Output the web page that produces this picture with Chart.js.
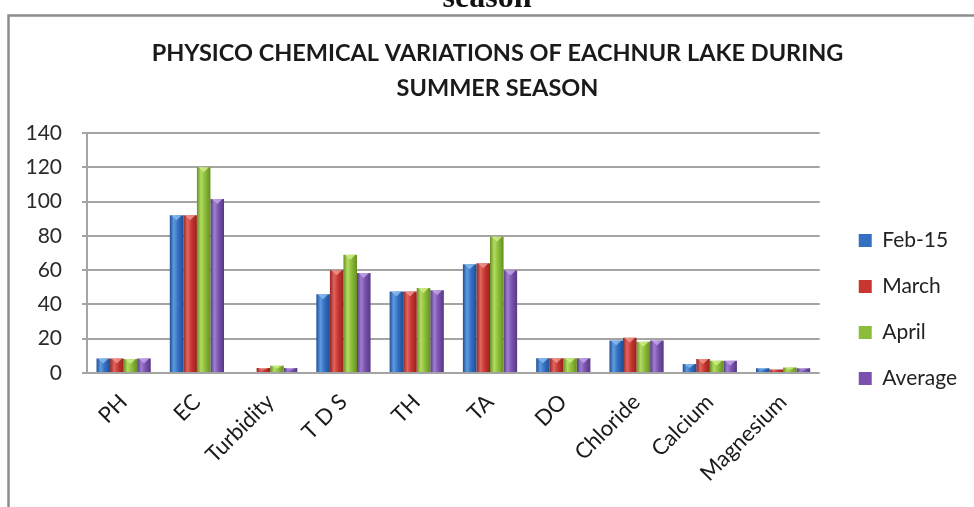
<!DOCTYPE html>
<html>
<head>
<meta charset="utf-8">
<script src="https://cdn.jsdelivr.net/npm/chart.js@4.4.1/dist/chart.umd.min.js"></script>
<style>
  html, body { margin: 0; padding: 0; background: #fff; overflow: hidden; }
  #wrap { position: relative; width: 974px; height: 507px; }
  #caption {
    position: absolute; left: 0; width: 974px; top: -22px; text-align: center;
    font: bold 32px "Liberation Serif", "DejaVu Serif", serif; color: #111;
    line-height: 36px; pointer-events: none; z-index: 2;
  }
  canvas { position: absolute; left: 0; top: 0; }
</style>
</head>
<body>
<div id="wrap">
  <div id="caption">season</div>
  <canvas id="chart" width="974" height="507"></canvas>
</div>
<script>
// Physico-chemical parameters measured at Eachnur lake
const categories = ['PH', 'EC', 'Turbidity', 'T D S', 'TH', 'TA', 'DO', 'Chloride', 'Calcium', 'Magnesium'];
const seriesNames = ['Feb-15', 'March', 'April', 'Average'];
const feb15   = [8.5, 92, 0,   46, 47.5, 63.5, 8.6, 19,   5.2, 2.8];
const march   = [8.5, 92, 2.9, 60, 47.5, 64,   8.6, 20.5, 8.2, 2.0];
const april   = [8.2, 120, 4.3, 69, 49.6, 79.5, 8.6, 18.3, 7.2, 3.2];
const average = [8.4, 101.5, 2.9, 58.3, 48.2, 59.8, 8.6, 18.9, 7.2, 2.8];
const yTicks  = [0, 20, 40, 60, 80, 100, 120, 140];

// base, light and dark shades for the cylinder-like bar fill
const palette = [
  { base: '#3470c2', light: '#5f9be0', dark: '#1f4f94', cap: '#8dbdf0' },
  { base: '#c83630', light: '#e06660', dark: '#962220', cap: '#f09a94' },
  { base: '#8cbd3a', light: '#b2dc62', dark: '#668f22', cap: '#d2ee8c' },
  { base: '#7a52ae', light: '#a07ed0', dark: '#553884', cap: '#c4a8e8' }
];

const FONT = 'Lato, "Open Sans", sans-serif';

// frame around the figure plus white page
const framePlugin = {
  id: 'frame',
  beforeDraw(chart) {
    const ctx = chart.ctx;
    ctx.save();
    ctx.fillStyle = '#ffffff';
    ctx.fillRect(0, 0, chart.width, chart.height);
    ctx.strokeStyle = '#8c8c8c';
    ctx.lineWidth = 2.5;
    ctx.beginPath();
    ctx.moveTo(8.5, chart.height);
    ctx.lineTo(8.5, 15.5);
    ctx.lineTo(chart.width, 15.5);
    ctx.stroke();
    ctx.restore();
  }
};

// shade each bar with a horizontal gradient and a bevelled top
const shadePlugin = {
  id: 'shade',
  beforeDatasetsDraw(chart) {
    const ctx = chart.ctx;
    chart.data.datasets.forEach((ds, di) => {
      const meta = chart.getDatasetMeta(di);
      const c = palette[di];
      meta.data.forEach(el => {
        const l = el.x - el.width / 2, r = el.x + el.width / 2;
        if (!isFinite(l) || !isFinite(r) || r <= l) return;
        const g = ctx.createLinearGradient(l, 0, r, 0);
        g.addColorStop(0, c.dark);
        g.addColorStop(0.3, c.light);
        g.addColorStop(0.6, c.base);
        g.addColorStop(1, c.dark);
        el.options.backgroundColor = g;
      });
    });
  },
  afterDatasetsDraw(chart) {
    const ctx = chart.ctx;
    ctx.save();
    chart.data.datasets.forEach((ds, di) => {
      const meta = chart.getDatasetMeta(di);
      const c = palette[di];
      meta.data.forEach(el => {
        const h = el.base - el.y;
        if (!(h > 3)) return;
        const l = el.x - el.width / 2, r = el.x + el.width / 2;
        const d = Math.min(5, h / 2);
        ctx.fillStyle = c.cap;
        ctx.globalAlpha = 0.8;
        ctx.beginPath();
        ctx.moveTo(l + 1.5, el.y);
        ctx.lineTo(r - 1.5, el.y);
        ctx.lineTo(el.x, el.y + d);
        ctx.closePath();
        ctx.fill();
      });
    });
    ctx.restore();
  }
};

// place the title and legend blocks relative to the framed figure
const blockShift = {
  id: 'blockShift',
  afterLayout(chart) {
    const lg = chart.legend;
    if (lg) { lg.left += 14; lg.right += 14; lg.top += 56; lg.bottom += 56; }
    const tb = chart.titleBlock;
    if (tb) { tb.left += 10; tb.right += 10; }
  }
};

const seriesValues = [feb15, march, april, average];
const datasets = seriesNames.map((name, i) => ({
  label: name,
  data: seriesValues[i],
  backgroundColor: () => palette[i].base,
  borderWidth: 0,
  categoryPercentage: 0.74,
  barPercentage: 1.0
}));

new Chart(document.getElementById('chart'), {
  type: 'bar',
  data: { labels: categories, datasets },
  plugins: [framePlugin, shadePlugin, blockShift],
  options: {
    responsive: false,
    animation: false,
    devicePixelRatio: 1,
    layout: { padding: { left: 22, right: 21, top: 0, bottom: 0 } },
    plugins: {
      title: {
        display: true,
        text: ['PHYSICO CHEMICAL VARIATIONS OF EACHNUR LAKE DURING', 'SUMMER SEASON'],
        color: '#1a1a1a',
        font: { family: FONT, size: 23.5, weight: 'bold', lineHeight: 35 / 23.5 },
        padding: { top: 35.5, bottom: 27.5 }
      },
      legend: {
        position: 'right',
        labels: {
          color: '#222',
          font: { family: FONT, size: 21 },
          boxWidth: 13,
          boxHeight: 13,
          padding: 25
        }
      },
      tooltip: { enabled: false }
    },
    scales: {
      x: {
        grid: { display: false },
        border: { display: false },
        ticks: {
          color: '#1a1a1a',
          font: { family: FONT, size: 22 },
          minRotation: 45,
          maxRotation: 45,
          padding: 8
        },
        afterFit(scale) { scale.height = 134; }
      },
      y: {
        min: 0,
        max: 140,
        afterBuildTicks(scale) { scale.ticks = yTicks.map(v => ({ value: v })); },
        grid: { color: '#a4a4a4', lineWidth: 2, tickLength: 5, drawTicks: true },
        border: { display: true, color: '#a4a4a4', width: 2 },
        ticks: {
          color: '#2a2a2a',
          font: { family: FONT, size: 21 },
          padding: 20
        },
        afterFit(scale) { scale.width = 65; }
      }
    }
  }
});
</script>
</body>
</html>
